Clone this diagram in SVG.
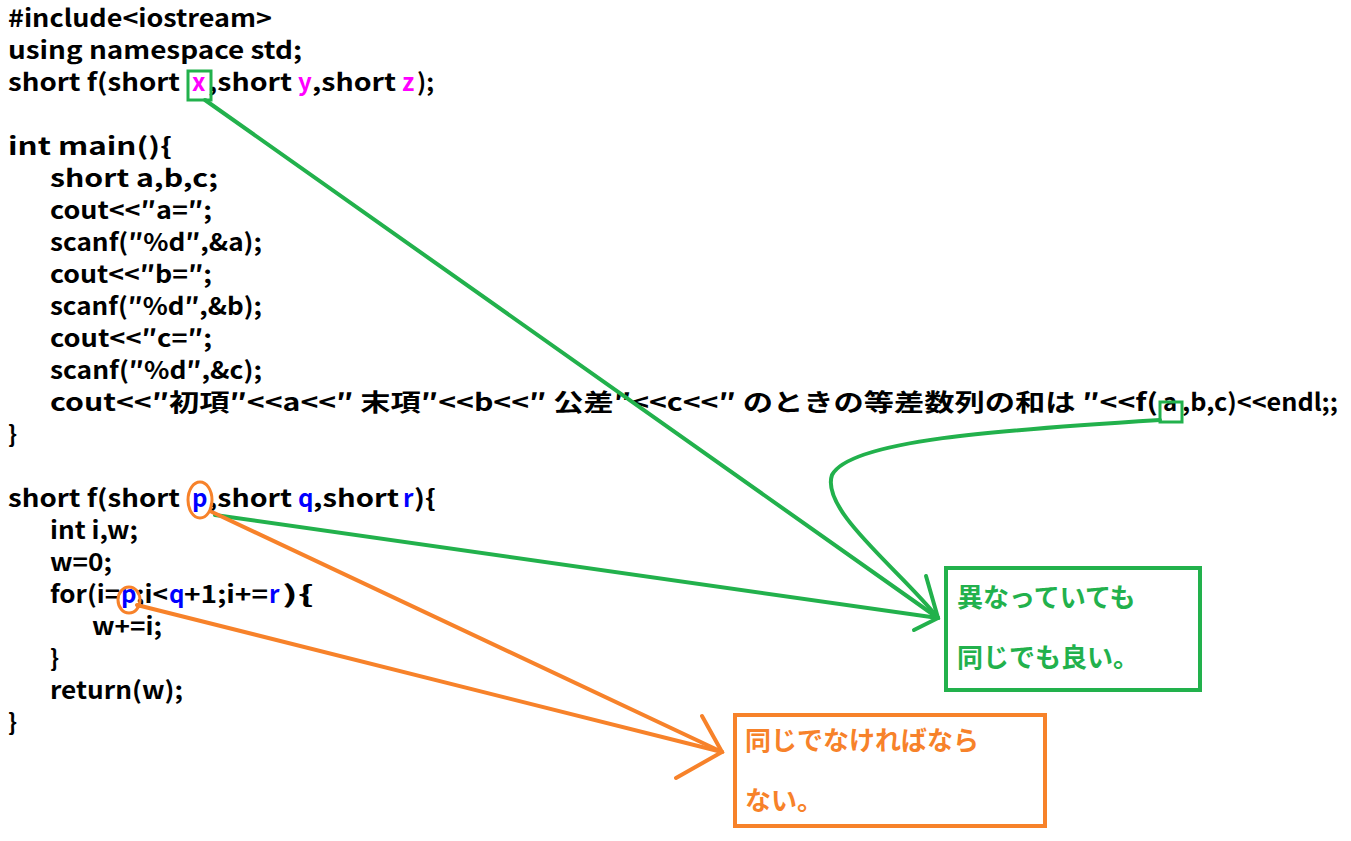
<svg xmlns="http://www.w3.org/2000/svg" width="1351" height="841" viewBox="0 0 1351 841">
<style>
.c{font-family:"Noto Sans CJK JP","Liberation Sans",sans-serif;font-weight:bold;font-size:24px;fill:#000}
.m{fill:#ff00ff}.b{fill:#0000ff}
.g{stroke:#22b14c;stroke-width:4;fill:none;stroke-linecap:round}
.o{stroke:#f7822a;stroke-width:4;fill:none;stroke-linecap:round}
.gt{font-family:"Noto Sans CJK JP",sans-serif;font-weight:bold;font-size:26px;fill:#22b14c}
.ot{font-family:"Noto Sans CJK JP",sans-serif;font-weight:bold;font-size:26px;fill:#f7822a}
</style>
<rect width="1351" height="841" fill="#fff"/>
<g id="code">
<text class="c" x="8" y="27" textLength="264" lengthAdjust="spacingAndGlyphs">#include&lt;iostream&gt;</text>
<text class="c" x="8" y="59" textLength="294" lengthAdjust="spacingAndGlyphs">using namespace std;</text>
<text class="c" y="91" lengthAdjust="spacingAndGlyphs"><tspan x="8" textLength="172" lengthAdjust="spacingAndGlyphs">short f(short</tspan><tspan x="192" class="m">x</tspan><tspan x="208" textLength="84" lengthAdjust="spacingAndGlyphs">,short</tspan><tspan x="298" class="m">y</tspan><tspan x="312" textLength="84" lengthAdjust="spacingAndGlyphs">,short</tspan><tspan x="402" class="m">z</tspan><tspan x="417" textLength="17" lengthAdjust="spacingAndGlyphs">);</tspan></text>
<text class="c" x="8" y="155" textLength="164" lengthAdjust="spacingAndGlyphs">int main(){</text>
<text class="c" x="50" y="187" textLength="168" lengthAdjust="spacingAndGlyphs">short a,b,c;</text>
<text class="c" x="50" y="219" textLength="162" lengthAdjust="spacingAndGlyphs">cout&lt;&lt;″a=″;</text>
<text class="c" x="50" y="251" textLength="212" lengthAdjust="spacingAndGlyphs">scanf(″%d″,&amp;a);</text>
<text class="c" x="50" y="283" textLength="162" lengthAdjust="spacingAndGlyphs">cout&lt;&lt;″b=″;</text>
<text class="c" x="50" y="315" textLength="212" lengthAdjust="spacingAndGlyphs">scanf(″%d″,&amp;b);</text>
<text class="c" x="50" y="347" textLength="162" lengthAdjust="spacingAndGlyphs">cout&lt;&lt;″c=″;</text>
<text class="c" x="50" y="379" textLength="212" lengthAdjust="spacingAndGlyphs">scanf(″%d″,&amp;c);</text>
<text class="c" y="411"><tspan x="50" textLength="1108" lengthAdjust="spacingAndGlyphs">cout&lt;&lt;″初項″&lt;&lt;a&lt;&lt;″ 末項″&lt;&lt;b&lt;&lt;″ 公差″&lt;&lt;c&lt;&lt;″ のときの等差数列の和は ″&lt;&lt;f(</tspan><tspan x="1163">a</tspan><tspan x="1182" textLength="156" lengthAdjust="spacingAndGlyphs">,b,c)&lt;&lt;endl;;</tspan></text>
<text class="c" x="8" y="443">}</text>
<text class="c" y="507"><tspan x="8" textLength="172" lengthAdjust="spacingAndGlyphs">short f(short</tspan><tspan x="192" class="b">p</tspan><tspan x="208" textLength="84" lengthAdjust="spacingAndGlyphs">,short</tspan><tspan x="298" class="b">q</tspan><tspan x="313" textLength="86" lengthAdjust="spacingAndGlyphs">,short</tspan><tspan x="403" class="b">r</tspan><tspan x="414" textLength="22" lengthAdjust="spacingAndGlyphs">){</tspan></text>
<text class="c" x="50" y="539" textLength="88" lengthAdjust="spacingAndGlyphs">int i,w;</text>
<text class="c" x="50" y="571" textLength="62" lengthAdjust="spacingAndGlyphs">w=0;</text>
<text class="c" y="603"><tspan x="50" textLength="70" lengthAdjust="spacingAndGlyphs">for(i=</tspan><tspan x="121" class="b">p</tspan><tspan x="136" textLength="32" lengthAdjust="spacingAndGlyphs">;i&lt;</tspan><tspan x="169" class="b">q</tspan><tspan x="184" textLength="84" lengthAdjust="spacingAndGlyphs">+1;i+=</tspan><tspan x="269" class="b">r</tspan><tspan x="282" textLength="32" lengthAdjust="spacingAndGlyphs">){</tspan></text>
<text class="c" x="92" y="635" textLength="70" lengthAdjust="spacingAndGlyphs">w+=i;</text>
<text class="c" x="50" y="667">}</text>
<text class="c" x="50" y="699" textLength="133" lengthAdjust="spacingAndGlyphs">return(w);</text>
<text class="c" x="8" y="731">}</text>
</g>
<g id="marks">
<rect x="188" y="71" width="23" height="29" fill="none" stroke="#22b14c" stroke-width="3"/>
<rect x="1160" y="402" width="22" height="20" fill="none" stroke="#22b14c" stroke-width="3"/>
<ellipse cx="200" cy="500" rx="12" ry="18" fill="none" stroke="#f7822a" stroke-width="3"/>
<ellipse cx="129" cy="600" rx="11" ry="13" fill="none" stroke="#f7822a" stroke-width="3"/>
</g>
<g id="connectors">
<path class="g" d="M205 100 L938 618"/>
<path class="g" d="M1160 420 C1000 430 850 440 832 475 C820 510 900 570 938 618"/>
<path class="g" d="M215 515 L938 618"/>
<path class="g" d="M926 576 L938 618 L914 630"/>
<path class="o" d="M212 512 L722 752"/>
<path class="o" d="M137 605 L722 752"/>
<path class="o" d="M702 716 L722 752 L676 778"/>
</g>
<g id="note-green">
<rect x="946" y="568" width="254" height="122" fill="#fff" stroke="#22b14c" stroke-width="4"/>
<text class="gt" x="957" y="607">異なっていても</text>
<text class="gt" x="957" y="667">同じでも良い。</text>
</g>
<g id="note-orange">
<rect x="735" y="715" width="310" height="111" fill="#fff" stroke="#f7822a" stroke-width="4"/>
<text class="ot" x="745" y="750">同じでなければなら</text>
<text class="ot" x="745" y="810">ない。</text>
</g>
</svg>
